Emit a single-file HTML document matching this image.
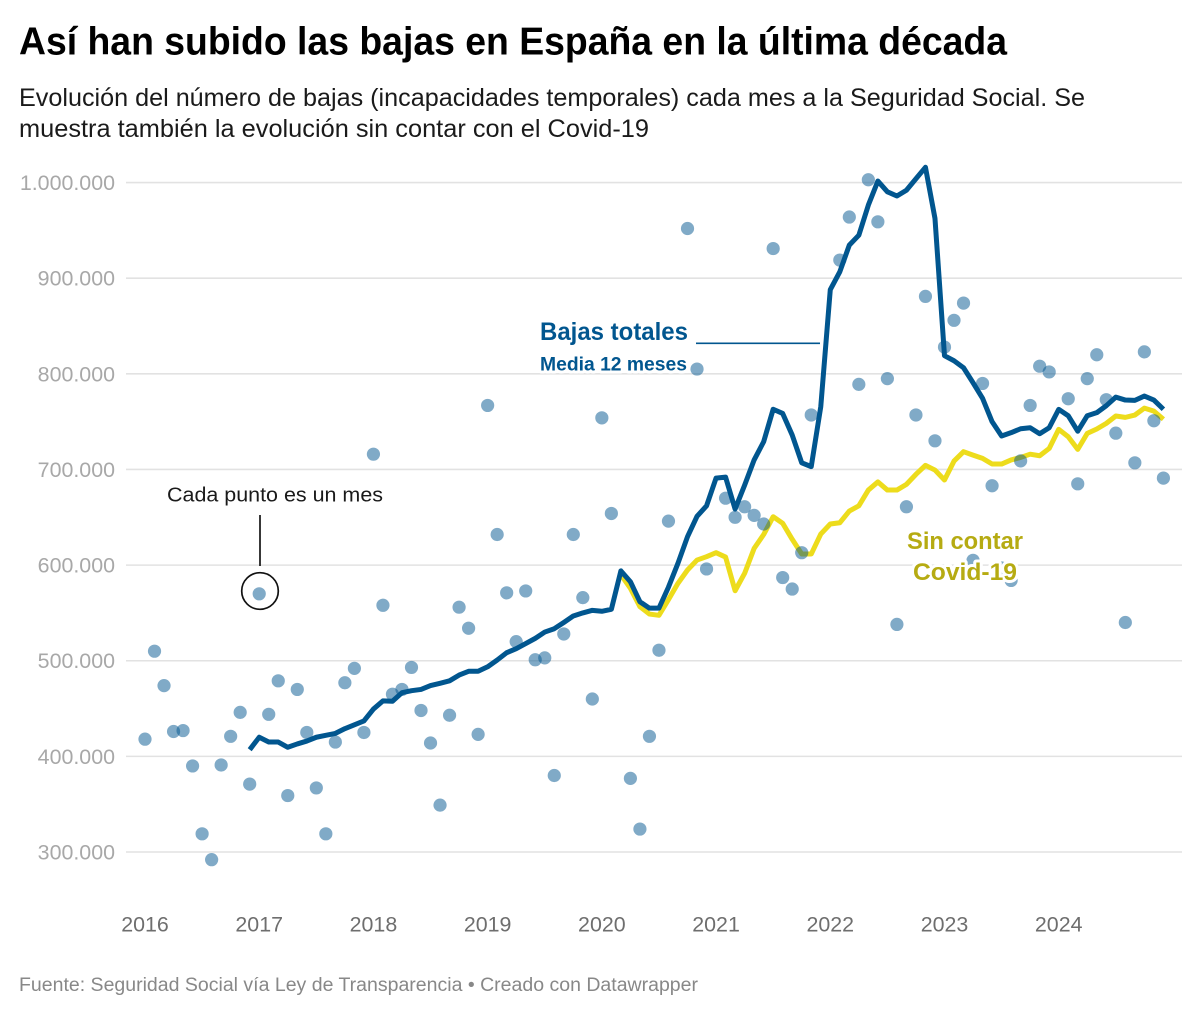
<!DOCTYPE html>
<html lang="es">
<head>
<meta charset="utf-8">
<title>Así han subido las bajas en España en la última década</title>
<style>
html,body{margin:0;padding:0;background:#fff;}
svg{display:block;font-family:"Liberation Sans",sans-serif;}
.halo{paint-order:stroke fill;stroke:#fff;stroke-linejoin:round;}
</style>
</head>
<body>
<svg id="chart" width="1200" height="1015" viewBox="0 0 1200 1015" xmlns="http://www.w3.org/2000/svg">
  <rect x="0" y="0" width="1200" height="1015" fill="#fff"/>
  <text x="19" y="54.5" font-size="39" font-weight="700" fill="#000" textLength="988" lengthAdjust="spacingAndGlyphs">Así han subido las bajas en España en la última década</text>
  <text x="19" y="106" font-size="25" fill="#1a1a1a" textLength="1066" lengthAdjust="spacingAndGlyphs">Evolución del número de bajas (incapacidades temporales) cada mes a la Seguridad Social. Se</text>
  <text x="19" y="137" font-size="25" fill="#1a1a1a" textLength="630" lengthAdjust="spacingAndGlyphs">muestra también la evolución sin contar con el Covid-19</text>

  <defs>
    <clipPath id="plot-clip"><rect x="100" y="160" width="1090" height="730"/></clipPath>
  </defs>
  <g id="grid"></g>
  <g id="y-labels"></g>
  <g id="x-labels"></g>
  <path id="line-sin-covid" fill="none" stroke="#eddc1c" stroke-width="5" stroke-linejoin="round" stroke-linecap="butt"/>
  <g id="dots" clip-path="url(#plot-clip)"></g>
  <path id="line-total" fill="none" stroke="#01568f" stroke-width="5" stroke-linejoin="round" stroke-linecap="butt"/>

  <text x="167" y="501.5" font-size="20" fill="#1a1a1a" textLength="216" lengthAdjust="spacingAndGlyphs">Cada punto es un mes</text>
  <line x1="260" y1="515" x2="260" y2="566" stroke="#222" stroke-width="1.8"/>
  <circle cx="260" cy="591" r="18.3" fill="none" stroke="#111" stroke-width="1.7"/>

  <text class="halo" x="540" y="340" font-size="25" font-weight="700" fill="#01568f" stroke-width="7" textLength="148" lengthAdjust="spacingAndGlyphs">Bajas totales</text>
  <text class="halo" x="540" y="370.5" font-size="19" font-weight="700" fill="#01568f" stroke-width="6" textLength="147" lengthAdjust="spacingAndGlyphs">Media 12 meses</text>
  <line x1="696" y1="343.3" x2="820" y2="343.3" stroke="#01568f" stroke-width="1.6"/>

  <text class="halo" x="907" y="549" font-size="24" font-weight="700" fill="#b6ab12" stroke-width="6" textLength="116" lengthAdjust="spacingAndGlyphs">Sin contar</text>
  <text class="halo" x="913" y="580" font-size="24" font-weight="700" fill="#b6ab12" stroke-width="6" textLength="104" lengthAdjust="spacingAndGlyphs">Covid-19</text>

  <text x="19" y="991" font-size="19" fill="#888" textLength="679" lengthAdjust="spacingAndGlyphs">Fuente: Seguridad Social vía Ley de Transparencia • Creado con Datawrapper</text>
</svg>
<script>
// Values in thousands of sick-leave cases. Months are counted from January 2016.
var xYears = [2016, 2017, 2018, 2019, 2020, 2021, 2022, 2023, 2024];
var yTicks = [300, 400, 500, 600, 700, 800, 900, 1000];
var yTickLabels = ['300.000', '400.000', '500.000', '600.000', '700.000', '800.000', '900.000', '1.000.000'];

var monthlyBajas = [
  418,510,474,426,427,390,319,292,391,421,446,371,
  570,444,479,359,470,425,367,319,415,477,492,425,
  716,558,465,470,493,448,414,349,443,556,534,423,
  767,632,571,520,573,501,503,380,528,632,566,460,
  754,654,1063,377,324,421,511,646,843,952,805,596,
  1102,670,650,661,652,643,931,587,575,613,757,1347,
  2568,919,964,789,1003,959,795,538,661,757,881,730,
  828,856,874,605,790,683,597,584,709,767,808,802,
  1044,774,685,795,820,773,738,540,707,823,751,691
];

// 12-month rolling mean, first point December 2016 (month index 11)
var totalMeanStartMonth = 11;
var totalMean = [
  407,
  420,415,415,409.5,413,416,420,422,424,429,433,437,
  449.5,458,457.6,466.6,468.7,470,474,476.4,479,485,489,489,
  493.7,500.7,508.4,512.6,518,523.4,530,533.5,540,546.8,550,552.7,
  551.7,553.8,594,582.6,561.7,555,555,577,602,629.7,651,662,
  691,692,658.6,683.6,710,729,763,758.6,736,707,703,765.6,
  888,906.7,934.6,945,976.5,1001.6,990.4,986,992,1004,1016,962.6,
  819,813.7,806.4,790.7,774.4,750,735,738.5,742.6,743.6,737.4,743.6,
  762.9,756.2,740,756.2,759.4,766.7,775.7,772.6,772.3,776.8,772.6,763
];

// Mean without Covid-19, first point March 2020 (month index 50)
var sinCovidStartMonth = 50;
var sinCovidMean = [
  590,575.7,556.5,548.8,547.5,564,581,594.9,605.3,608.8,
  613,608.4,573.2,591.4,617.5,632,650.6,643.7,627,611.6,611.6,632.5,
  643,644.3,656.5,662,678.5,687,678.5,678.5,684.4,694.9,704.3,699.4,
  689,708.8,718.6,715,711.6,705.7,705.7,710,712.6,716,714.4,722,
  742,734.2,721,737.8,742.3,748.2,755.9,754.5,756.9,764.2,761,752.5
];

var NS = 'http://www.w3.org/2000/svg';

function xScale(monthIndex) {
  return 145 + monthIndex * (1163.4 - 145) / 107;
}
function yScale(value) {
  return 852 - (value - 300) * (852 - 182.6) / 700;
}
function linePath(values, startMonth) {
  return values.map(function (v, i) {
    return (i ? 'L' : 'M') + xScale(startMonth + i).toFixed(2) + ' ' + yScale(v).toFixed(2);
  }).join(' ');
}

var gridGroup = document.getElementById('grid');
var yLabelGroup = document.getElementById('y-labels');
yTicks.forEach(function (tick, i) {
  var gridLine = document.createElementNS(NS, 'line');
  
  
  gridLine.setAttribute('x1', 126);
  gridLine.setAttribute('x2', 1182);
  gridLine.setAttribute('y1', yScale(tick));
  gridLine.setAttribute('y2', yScale(tick));
  gridLine.setAttribute('stroke', '#e2e2e2');
  gridLine.setAttribute('stroke-width', 1.6);
  gridGroup.appendChild(gridLine);

  var label = document.createElementNS(NS, 'text');
  
  
  label.setAttribute('x', 115);
  label.setAttribute('y', yScale(tick) + 7.5);
  label.setAttribute('text-anchor', 'end');
  label.setAttribute('font-size', 21.4);
  label.setAttribute('fill', '#a8a8a8');
  label.textContent = yTickLabels[i];
  yLabelGroup.appendChild(label);
});

var xLabelGroup = document.getElementById('x-labels');
xYears.forEach(function (year, i) {
  var label = document.createElementNS(NS, 'text');
  
  
  label.setAttribute('x', xScale(i * 12));
  label.setAttribute('y', 931.5);
  label.setAttribute('text-anchor', 'middle');
  label.setAttribute('font-size', 21.4);
  label.setAttribute('fill', '#6e6e6e');
  label.textContent = year;
  xLabelGroup.appendChild(label);
});

var dotGroup = document.getElementById('dots');
monthlyBajas.forEach(function (value, i) {
  var dot = document.createElementNS(NS, 'circle');
  
  
  dot.setAttribute('cx', xScale(i));
  dot.setAttribute('cy', yScale(value));
  dot.setAttribute('r', 6.6);
  dot.setAttribute('fill', '#01568f');
  dot.setAttribute('fill-opacity', 0.5);
  dotGroup.appendChild(dot);
});

document.getElementById('line-total').setAttribute('d', linePath(totalMean, totalMeanStartMonth));
document.getElementById('line-sin-covid').setAttribute('d', linePath(sinCovidMean, sinCovidStartMonth));
</script>
</body>
</html>
